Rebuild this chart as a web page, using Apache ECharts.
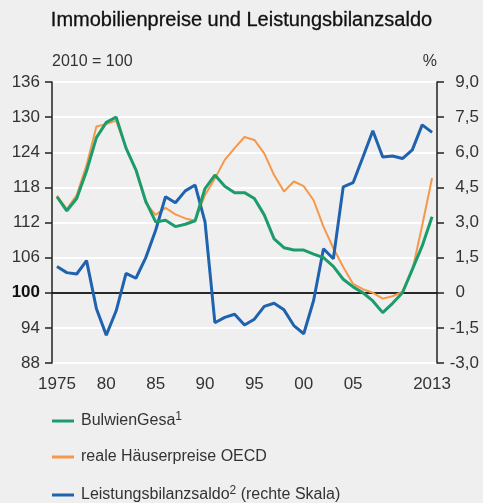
<!DOCTYPE html>
<html>
<head>
<meta charset="utf-8">
<script src="https://cdn.jsdelivr.net/npm/echarts@6/dist/echarts.min.js"></script>
<style>
  html, body { margin: 0; padding: 0; background: #efefef; }
  #chart { width: 483px; height: 503px; }
</style>
</head>
<body>
<div id="chart"></div>
<script>
// Years on the category axis
const years = ['1975','1976','1977','1978','1979','1980','1981','1982','1983','1984',
  '1985','1986','1987','1988','1989','1990','1991','1992','1993','1994',
  '1995','1996','1997','1998','1999','2000','2001','2002','2003','2004',
  '2005','2006','2007','2008','2009','2010','2011','2012','2013'];

// Residential property prices, 2010 = 100 (left scale)
const bulwienGesa = [116.4, 114.0, 116.1, 120.8, 126.5, 129.1, 130.0, 124.7, 121.0, 115.6,
  112.1, 112.4, 111.3, 111.7, 112.3, 117.8, 120.1, 118.2, 117.1, 117.1,
  116.1, 113.3, 109.2, 107.7, 107.3, 107.3, 106.6, 106.0, 104.5, 102.3,
  101.0, 100.0, 98.6, 96.6, 98.2, 100.0, 104.0, 108.0, 113.0];

const oecdReal = [116.6, 114.3, 116.7, 121.8, 128.4, 128.8, 129.4, 124.7, 121.0, 115.3,
  113.3, 114.5, 113.4, 112.7, 112.3, 116.7, 119.5, 122.7, 124.7, 126.6,
  126.1, 123.8, 120.1, 117.3, 119.0, 118.2, 115.8, 111.3, 107.6, 104.4,
  101.5, 100.6, 100.0, 99.0, 99.4, 100.2, 103.8, 111.5, 119.6];

// Current account balance, % (right scale)
const currentAccount = [1.12, 0.86, 0.80, 1.37, -0.68, -1.81, -0.77, 0.83, 0.62, 1.5,
  2.67, 4.1, 3.84, 4.35, 4.6, 3.03, -1.28, -1.05, -0.92, -1.38,
  -1.13, -0.58, -0.45, -0.73, -1.4, -1.75, -0.33, 1.88, 1.45, 4.52,
  4.7, 5.8, 6.92, 5.8, 5.84, 5.73, 6.1, 7.17, 6.85];

// Years that carry a label on the x axis
const labelledYears = ['1975','1980','1985','1990','1995','2000','2005','2013'];

const names = {
  green: 'BulwienGesa',
  orange: 'reale Häuserpreise OECD',
  blue: 'Leistungsbilanzsaldo'
};
const legendText = {
  'BulwienGesa': 'BulwienGesa{sup|1}',
  'reale Häuserpreise OECD': 'reale Häuserpreise OECD',
  'Leistungsbilanzsaldo': 'Leistungsbilanzsaldo{sup|2} (rechte Skala)'
};

const FONT = '"Liberation Sans", Arial, sans-serif';
const AXIS = '#222222';
const TXT = '#333333';

const chart = echarts.init(document.getElementById('chart'), null, { renderer: 'canvas' });

chart.setOption({
  backgroundColor: '#efefef',
  animation: false,
  textStyle: { fontFamily: FONT },
  title: {
    text: 'Immobilienpreise und Leistungsbilanzsaldo',
    left: 'center',
    top: 5,
    textStyle: { fontFamily: FONT, fontSize: 20, fontWeight: 'normal', color: '#111111',
      textBorderColor: '#111111', textBorderWidth: 0.3 }
  },
  grid: { left: 52, right: 46, top: 82, bottom: 140, containLabel: false, outerBoundsMode: 'none' },
  legend: {
    orient: 'vertical',
    left: 52,
    top: 411,
    padding: 0,
    itemWidth: 22,
    itemHeight: 3,
    itemGap: 20,
    icon: 'rect',
    data: [names.green, names.orange, names.blue],
    formatter: n => legendText[n],
    textStyle: {
      fontFamily: FONT, fontSize: 16, color: TXT, padding: [0, 0, 0, 2],
      rich: { sup: { fontFamily: FONT, fontSize: 12, color: TXT, verticalAlign: 'top', padding: [0, 0, 8, 0] } }
    }
  },
  xAxis: {
    type: 'category',
    data: years,
    boundaryGap: true,
    axisLine: { lineStyle: { color: AXIS, width: 1.5 } },
    axisTick: { interval: 0, length: 7, lineStyle: { color: AXIS, width: 1.5 } },
    axisLabel: {
      interval: (i, v) => labelledYears.indexOf(v) >= 0,
      formatter: v => (v === '1975' || v === '2013') ? v : v.slice(2),
      color: TXT, fontSize: 17, fontFamily: FONT, margin: 13
    },
    splitLine: { show: false }
  },
  yAxis: [
    {
      type: 'value',
      min: 88, max: 136, interval: 6,
      name: '2010 = 100',
      nameLocation: 'end',
      nameGap: 20,
      nameTextStyle: { align: 'left', verticalAlign: 'middle', fontSize: 16, color: TXT, fontFamily: FONT },
      axisLine: { show: true, lineStyle: { color: AXIS, width: 1.5 } },
      axisTick: { show: true, length: 7, lineStyle: { color: AXIS, width: 1.5 } },
      axisLabel: {
        color: TXT, fontSize: 17, fontFamily: FONT, margin: 12,
        formatter: v => v === 100 ? '{b|100}' : String(v),
        rich: { b: { fontWeight: 'bold', color: '#111', fontSize: 17, fontFamily: FONT } }
      },
      splitLine: { show: true, lineStyle: { color: '#ffffff', width: 2 } }
    },
    {
      type: 'value',
      min: -3, max: 9, interval: 1.5,
      name: '%',
      nameLocation: 'end',
      nameGap: 20,
      nameTextStyle: { align: 'right', verticalAlign: 'middle', fontSize: 16, color: TXT, fontFamily: FONT },
      axisLine: { show: true, lineStyle: { color: AXIS, width: 1.5 } },
      axisTick: { show: true, length: 7, lineStyle: { color: AXIS, width: 1.5 } },
      axisLabel: {
        color: TXT, fontSize: 17, fontFamily: FONT, margin: 42, align: 'right',
        // decimal-aligned: the plain zero sits where the integer digit of the others sits
        formatter: v => v === 0 ? '{z|0}' : v.toFixed(1).replace('.', ','),
        rich: { z: { color: TXT, fontSize: 17, fontFamily: FONT, padding: [0, 14, 0, 0] } }
      },
      splitLine: { show: false }
    }
  ],
  series: [
    {
      name: names.orange,
      type: 'line',
      data: oecdReal,
      yAxisIndex: 0,
      symbol: 'none',
      lineStyle: { color: '#f7974a', width: 2 },
      itemStyle: { color: '#f7974a' },
      z: 2
    },
    {
      name: names.blue,
      type: 'line',
      data: currentAccount,
      yAxisIndex: 1,
      symbol: 'none',
      lineStyle: { color: '#1f62ad', width: 3 },
      itemStyle: { color: '#1f62ad' },
      z: 3
    },
    {
      name: names.green,
      type: 'line',
      data: bulwienGesa,
      yAxisIndex: 0,
      symbol: 'none',
      lineStyle: { color: '#1d9c6b', width: 3 },
      itemStyle: { color: '#1d9c6b' },
      z: 4,
      markLine: {
        silent: true,
        symbol: 'none',
        label: { show: false },
        lineStyle: { color: '#1a1a1a', width: 1.5, type: 'solid' },
        data: [{ yAxis: 100 }],
        z: 1
      }
    }
  ]
});
</script>
</body>
</html>
